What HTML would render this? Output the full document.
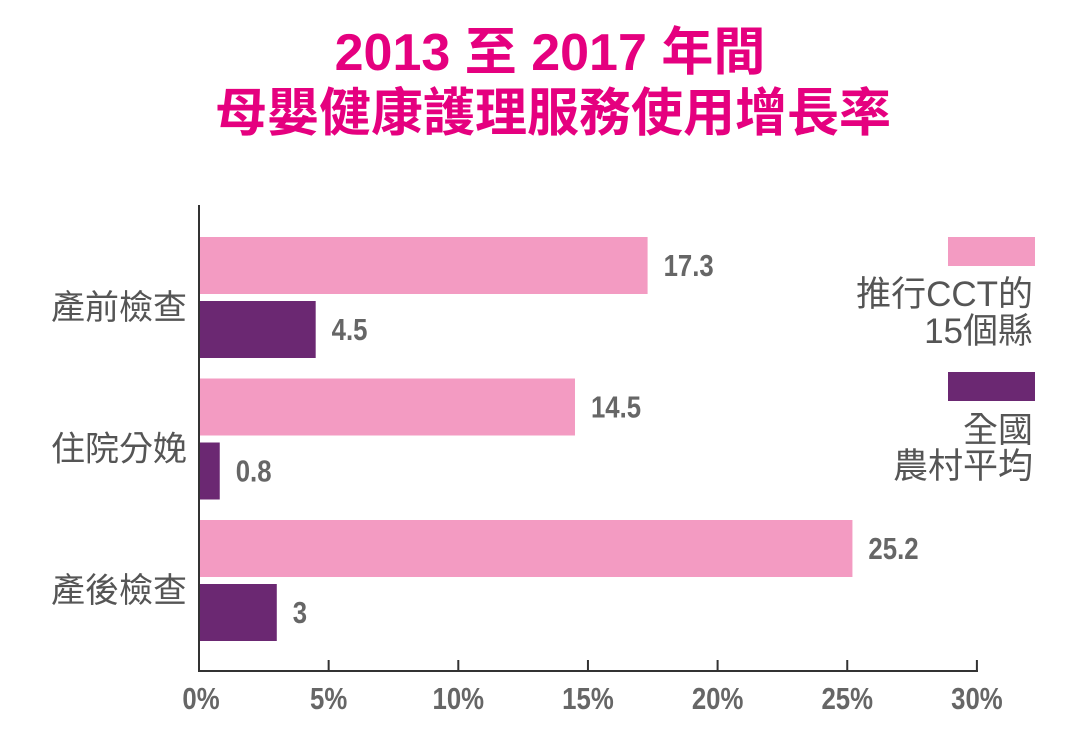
<!DOCTYPE html>
<html><head><meta charset="utf-8"><style>
html,body{margin:0;padding:0;background:#fff;}
svg{display:block;}
.t{font-family:"Liberation Sans","Noto Sans CJK TC",sans-serif;font-weight:bold;fill:#e5007f;font-size:52px;}
.cat{font-family:"Liberation Sans","Noto Sans CJK TC",sans-serif;fill:#555;font-size:34px;}
.val{font-family:"Liberation Sans",sans-serif;font-weight:bold;fill:#666;font-size:28px;}
.tick{font-family:"Liberation Sans",sans-serif;font-weight:bold;fill:#666;font-size:28px;}
.leg{font-family:"Liberation Sans","Noto Sans CJK TC",sans-serif;fill:#555;font-size:35px;}
</style></head><body>
<svg id="chart" width="1088" height="746" viewBox="0 0 1088 746">
<text class="t" x="550" y="70" text-anchor="middle">2013 至 2017 年間</text>
<text class="t" x="553" y="131" text-anchor="middle">母嬰健康護理服務使用增長率</text>
<g id="bars"></g>
<line x1="199" y1="205" x2="199" y2="671" stroke="#333" stroke-width="2"/>
<line x1="198" y1="671" x2="978" y2="671" stroke="#333" stroke-width="2"/>
<g id="ticks"></g>
<rect x="948" y="237" width="87" height="29" fill="#f39bc2"/>
<text class="leg" x="1033" y="306" text-anchor="end">推行CCT的</text>
<text class="leg" x="1033" y="343" text-anchor="end">15個縣</text>
<rect x="948" y="372" width="87" height="29" fill="#6b2872"/>
<text class="leg" x="1033" y="442" text-anchor="end">全國</text>
<text class="leg" x="1033" y="478" text-anchor="end">農村平均</text>
</svg>
<script>
const categories = ["產前檢查","住院分娩","產後檢查"];
const cctValues = [17.3, 14.5, 25.2];
const nationalValues = [4.5, 0.8, 3];
const cctLabels = ["17.3","14.5","25.2"];
const nationalLabels = ["4.5","0.8","3"];
const tickValues = [0,5,10,15,20,25,30];
const tickLabels = ["0%","5%","10%","15%","20%","25%","30%"];

const NS="http://www.w3.org/2000/svg";
const x = v => 199 + v*25.93;
const groupTop = i => 237 + i*141.5;
const bars=document.getElementById('bars');
const ticks=document.getElementById('ticks');
function mk(tag, attrs, parent){const e=document.createElementNS(NS,tag);for(const k in attrs)e.setAttribute(k,attrs[k]);parent.appendChild(e);return e;}
categories.forEach((c,i)=>{
  const y0=groupTop(i);
  let r=mk('rect',{x:200,y:y0,width:x(cctValues[i])-200,height:57,fill:'#f39bc2'},bars);
  
  
  let t=mk('text',{x:x(cctValues[i])+16,y:y0+39,'class':'val',transform:'scale(1,1)'},bars);t.textContent=cctLabels[i];
  
  
  r=mk('rect',{x:200,y:y0+64,width:x(nationalValues[i])-200,height:57,fill:'#6b2872'},bars);
  
  
  t=mk('text',{x:x(nationalValues[i])+16,y:y0+103,'class':'val'},bars);t.textContent=nationalLabels[i];
  
  
  t=mk('text',{x:187,y:y0+82,'class':'cat','text-anchor':'end'},bars);t.textContent=c;
  
  
});
tickValues.forEach((v,i)=>{
  const xx=x(v);
  const l=mk('line',{x1:xx,y1:660,x2:xx,y2:671,stroke:'#333','stroke-width':2},ticks);
  
  
  const t=mk('text',{x:xx+(i==0?2:0),y:709,'class':'tick','text-anchor':'middle'},ticks);t.textContent=tickLabels[i];
  
  
});
document.querySelectorAll('.val,.tick').forEach(t=>{
  const bb=t.getBBox();
  const cx=bb.x+(t.classList.contains('tick')?bb.width/2:0);
  t.setAttribute('transform','translate('+cx+',0) scale(0.92,1.08) translate('+(-cx)+',0)');
  t.setAttribute('y', parseFloat(t.getAttribute('y'))/1.08);
});
</script>
</body></html>
